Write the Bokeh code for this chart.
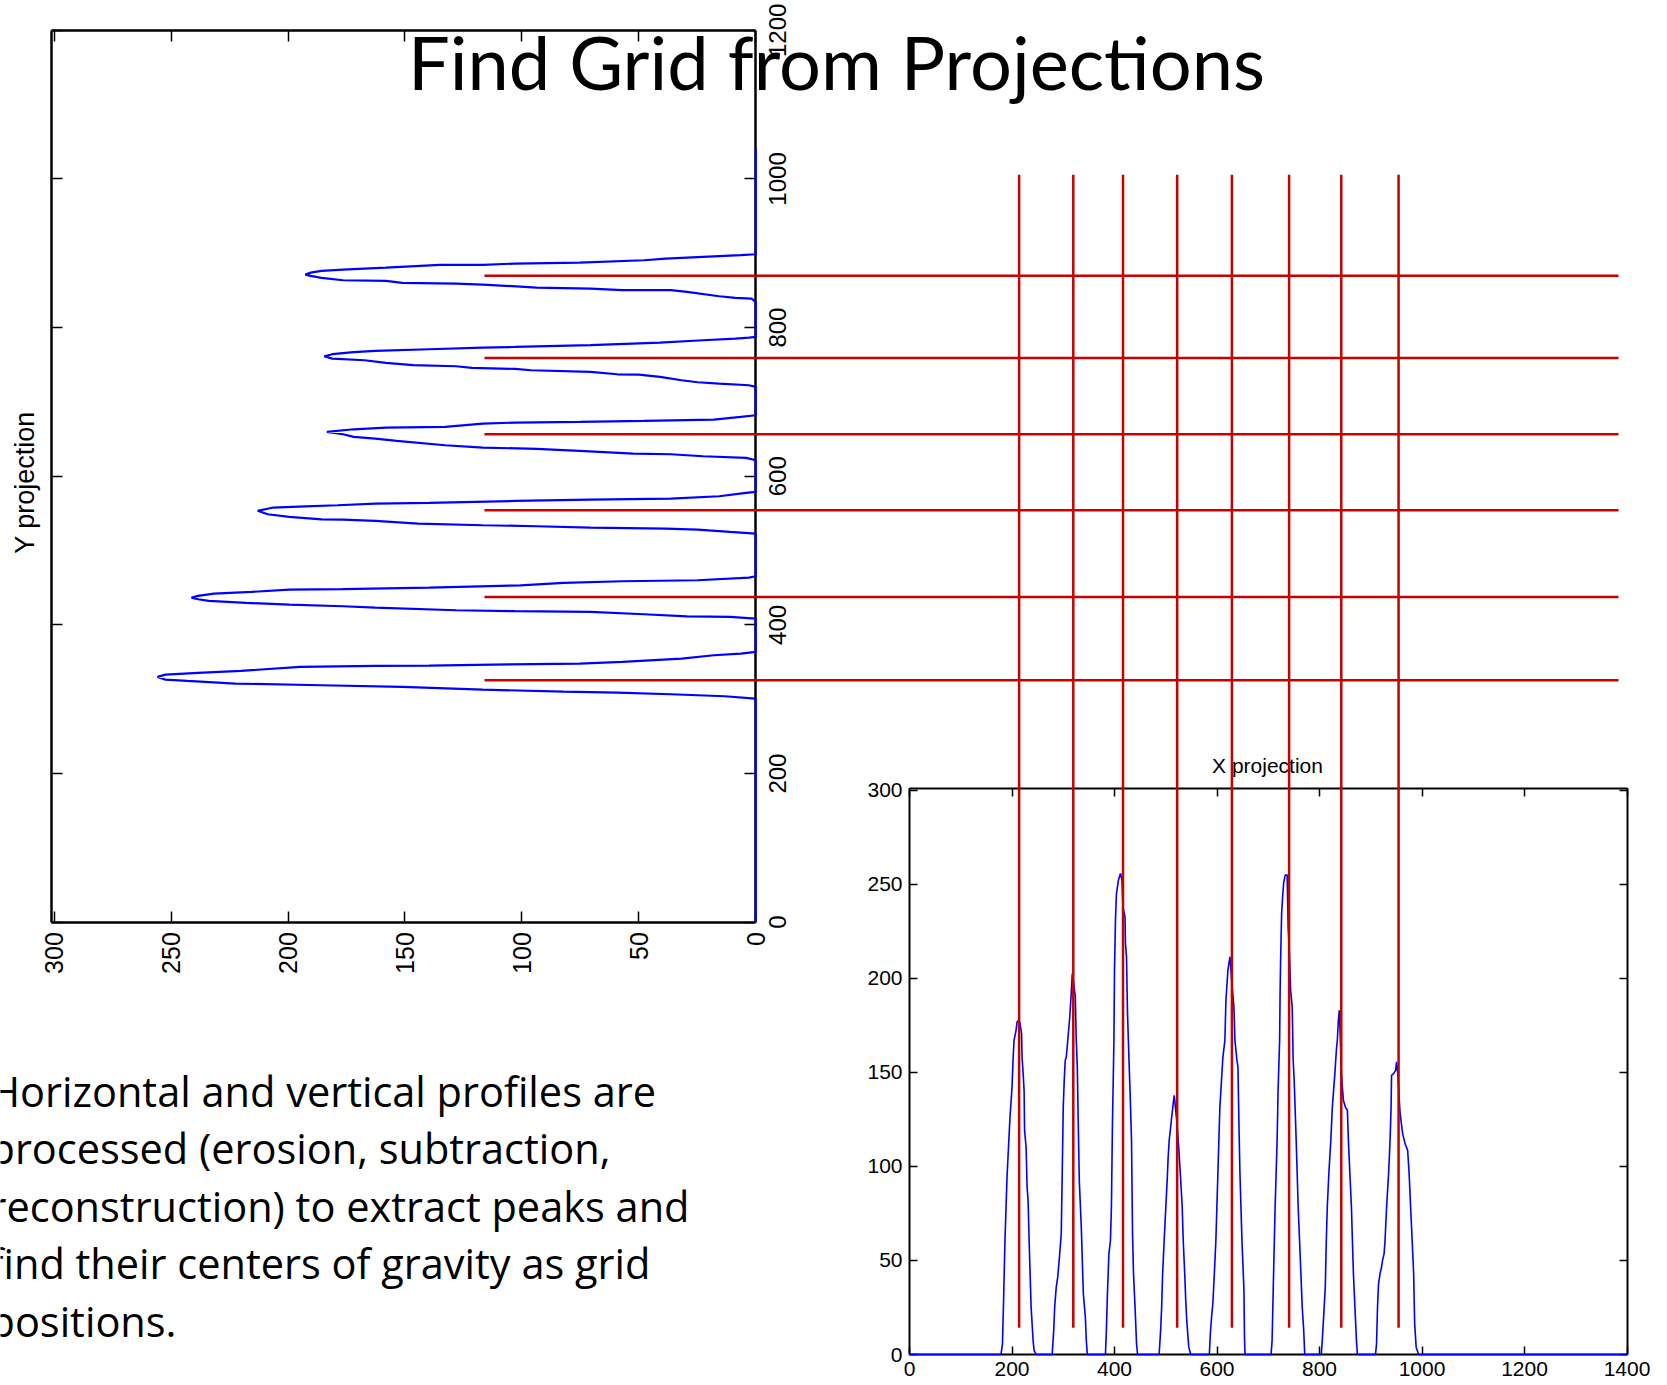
import math
from bokeh.plotting import figure
from bokeh.models import Range1d, LinearAxis, FixedTicker, Label
from bokeh.core.properties import value
from bokeh.embed import file_html
from bokeh.resources import INLINE

# ---------------- data ----------------
title_text = "Find Grid from Projections"
paragraph_lines = [
    "Horizontal and vertical profiles are",
    "processed (erosion, subtraction,",
    "reconstruction) to extract peaks and",
    "find their centers of gravity as grid",
    "positions.",
]

# X projection (profile summed over rows), x = column, y = value
xproj_x = [0, 178.5, 181.4, 183.4, 186.3, 190.3, 196.1, 200.1, 202.0, 204.0, 207.9, 209.9, 213.8, 215.7, 218.7, 219.6,
           221.6, 223.6, 224.5, 227.5, 229.4, 231.4, 233.4, 237.3, 241.2, 243.2, 247.1,
           278.4, 281.4, 283.3, 286.3, 289.2, 292.1, 296.1, 298.0, 300.0, 301.9, 303.9, 305.9, 308.8, 312.7, 315.6,
           317.6, 319.6, 323.5, 325.4, 327.4, 329.4, 331.3, 335.2, 337.2, 339.2, 343.1, 345.0, 347.0,
           382.3, 384.2, 386.2, 389.1, 392.1, 394.0, 396.0, 398.9, 400.0, 401.9, 403.8, 407.7, 411.6, 414.6, 416.5,
           420.5, 421.4, 423.4, 425.4, 428.3, 430.3, 433.2, 435.2, 437.1, 440.1, 443.0, 445.0,
           487.1, 490.0, 492.0, 493.9, 496.9, 499.8, 502.8, 504.7, 506.7, 509.6, 511.6, 514.5, 516.5, 521.4, 525.3,
           529.2, 532.1, 534.1, 537.0, 539.0, 541.0, 544.9, 548.8,
           585.0, 587.0, 589.9, 591.9, 594.8, 597.8, 601.7, 605.6, 611.5, 615.4, 617.4, 621.3, 625.2, 629.1, 633.0,
           635.0, 638.9, 640.9, 642.8, 644.8, 648.7, 652.6, 653.6, 654.6,
           705.5, 707.5, 710.4, 713.4, 717.3, 719.2, 722.2, 723.1, 724.1, 726.1, 728.1, 730.0, 733.0, 736.9, 738.8,
           740.8, 743.7, 746.7, 748.6, 750.6, 754.5, 758.4, 762.4, 766.3, 769.2, 771.2,
           803.5, 805.4, 808.4, 811.3, 813.3, 815.2, 818.2, 822.1, 825.0, 830.0, 832.9, 834.8, 836.8, 838.8, 840.7,
           842.7, 846.6, 850.5, 854.4, 856.4, 859.3, 862.3, 864.2, 866.2, 869.1, 872.1, 874.0,
           909.3, 911.3, 913.2, 915.2, 918.1, 921.1, 923.0, 926.0, 927.9, 930.9, 934.8, 937.7, 939.7, 940.6, 944.6,
           948.5, 950.4, 952.4, 954.3, 957.3, 962.2, 967.1, 972.0, 974.9, 977.8, 980.8, 983.7, 985.7, 988.6, 993.5,
           1400]
xproj_y = [0, 0, 5.7, 27.0, 60.6, 94.3, 126.2, 142.2, 156.4, 167.0, 172.3, 176.8, 177.7, 175.9, 170.6, 158.1,
           150.0, 140.4, 119.1, 110.3, 89.0, 81.9, 60.6, 25.2, 7.4, 2.1, 0,
           0, 12.8, 25.2, 35.8, 41.1, 50.0, 64.2, 96.1, 131.5, 145.7, 156.4, 158.0, 167.0, 179.4, 191.9,
           202.5, 199.0, 190.1, 167.0, 152.8, 120.9, 92.5, 67.7, 50.0, 32.3, 19.9, 7.4, 0,
           0, 12.8, 32.3, 53.5, 60.6, 78.4, 122.7, 167.0, 204.3, 230.9, 245.0, 252.1, 255.7, 252.1, 238.0,
           232.6, 218.4, 211.4, 181.2, 156.4, 140.4, 113.8, 64.2, 42.9, 25.2, 5.7, 0,
           0, 12.8, 25.2, 42.9, 60.6, 76.6, 92.5, 104.9, 113.8, 120.9, 126.2, 133.3, 137.7, 124.4, 110.3,
           92.5, 78.4, 60.6, 42.9, 28.7, 18.1, 3.9, 0,
           0, 11.0, 21.6, 27.0, 42.9, 60.6, 96.1, 131.5, 158.1, 167.0, 188.3, 204.3, 211.4, 197.2, 184.8,
           167.0, 156.4, 152.8, 122.7, 96.1, 60.6, 34.0, 10.0, 0,
           0, 7.4, 42.9, 78.4, 113.8, 140.4, 167.0, 191.9, 209.6, 234.4, 243.3, 250.4, 254.8, 254.8, 227.3,
           216.7, 193.6, 184.8, 156.4, 145.7, 113.8, 78.4, 51.8, 25.2, 12.8, 0,
           0, 7.4, 21.6, 35.8, 60.6, 78.4, 96.1, 113.8, 131.5, 149.3, 161.7, 167.0, 177.7, 183.0, 167.0,
           149.3, 135.1, 131.5, 129.8, 113.8, 96.1, 78.4, 60.6, 42.9, 25.2, 7.4, 0,
           0, 5.7, 25.2, 37.6, 42.9, 46.5, 50.0, 53.5, 60.6, 78.4, 96.1, 113.8, 131.5, 148.4, 149.3,
           151.0, 155.5, 150.2, 142.2, 128.0, 117.4, 112.0, 108.5, 96.1, 78.4, 60.6, 42.9, 16.3, 3.9, 0,
           0]

# Y projection (profile summed over columns), pos = row, val = value
yproj_pos = [0,
             300.9, 304.0, 306.7, 308.9, 310.3, 312.9, 316.5, 318.8, 321.0, 324.6, 326.4, 330.0, 333.1, 335.4, 338.1,
             343.5, 344.8, 345.3, 347.0, 347.9, 350.2, 354.7, 359.2, 361.4, 363.6,
             408.5, 410.7, 411.6, 414.3, 417.5, 418.4, 419.7, 423.3, 425.1, 427.3, 429.6, 432.3, 434.5, 436.7, 439.0,
             442.1, 444.4, 447.5, 448.0, 450.2, 453.3, 456.5, 458.7, 460.1, 463.6, 465.4,
             522.9, 525.1, 528.2, 529.6, 530.9, 532.7, 534.1, 536.3, 539.9, 541.7, 542.1, 545.3, 548.9, 553.5, 557.9,
             559.6, 561.0, 563.2, 564.1, 566.8, 568.6, 570.0, 573.1, 577.6, 578.9,
             621.5, 624.7, 626.9, 629.6, 630.5, 634.1, 636.8, 638.6, 641.7, 647.5, 650.7, 652.9, 656.5, 659.7, 663.2,
             665.5, 666.4, 670.9, 672.2, 673.1, 674.5, 676.3, 679.8, 682.1,
             720.2, 722.4, 724.7, 726.5, 729.2, 733.7, 736.8, 737.2, 740.4, 742.6, 744.4, 745.8, 748.0, 749.4, 752.5,
             756.1, 758.3, 761.5, 764.2, 766.9, 768.6, 770.9, 773.1, 774.0, 776.3, 779.9, 783.0, 785.2, 786.6, 787.5,
             834.6, 839.1, 840.0, 842.2, 848.0, 850.3, 850.3, 852.5, 853.9, 857.9, 859.2, 860.1, 862.8, 863.7, 866.9,
             869.6, 871.3, 874.0, 876.3, 878.1, 880.8, 884.4, 884.4, 886.2, 887.5, 890.6, 892.9, 895.1, 897.4, 898.7,
             1041]
yproj_val = [0,
             0, 13.3, 36.3, 59.2, 82.2, 116.7, 151.2, 185.7, 222.5, 243.1, 252.4, 255.8, 252.4, 238.5, 220.2,
             194.8, 162.7, 139.7, 105.2, 75.3, 57.0, 31.7, 17.9, 6.4, 0,
             0, 11.0, 29.4, 47.8, 70.7, 102.9, 128.2, 162.7, 176.5, 199.5, 217.9, 233.9, 238.5, 241.3, 238.5,
             231.7, 215.6, 199.5, 176.5, 139.7, 100.6, 82.2, 57.0, 24.8, 2.9, 0,
             0, 11.0, 24.8, 38.5, 70.7, 93.7, 116.7, 144.3, 162.7, 176.5, 185.7, 199.5, 208.7, 213.0, 206.3,
             192.6, 178.8, 162.7, 139.7, 102.9, 70.7, 36.3, 15.6, 4.1, 0,
             0, 4.1, 22.5, 36.3, 52.4, 75.3, 93.7, 116.7, 132.8, 153.5, 162.7, 171.9, 176.5, 183.4, 171.9,
             158.1, 132.8, 116.7, 102.9, 75.3, 47.8, 17.9, 6.4, 0,
             0, 2.9, 15.6, 24.8, 31.7, 40.9, 50.0, 59.2, 70.7, 96.0, 102.9, 121.3, 128.2, 146.6, 158.1,
             167.3, 181.1, 184.5, 181.1, 171.9, 162.7, 139.7, 116.7, 102.9, 70.7, 40.9, 22.5, 8.7, 2.9, 0,
             0, 1.8, 8.7, 15.6, 29.4, 36.3, 57.0, 70.7, 93.7, 116.7, 128.2, 151.2, 158.1, 176.5, 185.7,
             190.3, 192.6, 190.3, 185.7, 176.5, 158.1, 135.1, 116.7, 102.9, 75.3, 47.8, 38.5, 22.5, 6.4, 0,
             0]

# detected grid positions (centres of gravity)
grid_cols = [213.9, 319.6, 416.6, 522.3, 629.1, 740.7, 842.5, 954.3]   # X-projection units
grid_rows = [325.5, 437.6, 554.3, 656.5, 759.2, 869.6]                 # Y-projection units
col_line_y = [14.2, 627.0]     # vertical grid lines extent (X-projection value units)
row_line_v = [116.0, -369.0]   # horizontal grid lines extent (Y-projection value units)

xproj_xticks = [0, 200, 400, 600, 800, 1000, 1200, 1400]
xproj_yticks = [0, 50, 100, 150, 200, 250, 300]
yproj_vticks = [0, 50, 100, 150, 200, 250, 300]
yproj_pticks = [0, 200, 400, 600, 800, 1000, 1200]

# ---------------- layout ----------------
W, H = 1667, 1385
XP = dict(left=909, right=1626.5, top=787.7, bottom=1354, x=(0, 1400), y=(0, 301))
YP = dict(left=51.4, right=755.2, top=29.8, bottom=921.7, v=(301, 0), p=(0, 1200))


def span_range(d_a, p_a, d_b, p_b, total):
    k = (p_b - p_a) / (d_b - d_a)
    return Range1d(d_a - p_a / k, d_a + (total - p_a) / k)


p = figure(width=W, height=H, x_range=Range1d(0, W), y_range=Range1d(H, 0),
           min_border=0, toolbar_location=None, output_backend="svg",
           x_axis_location=None, y_axis_location=None)
p.outline_line_color = None
p.background_fill_color = "white"
p.border_fill_color = "white"
p.grid.visible = False

p.extra_x_ranges = {
    "xpx": span_range(XP["x"][0], XP["left"], XP["x"][1], XP["right"], W),
    "ypx": span_range(YP["v"][0], YP["left"], YP["v"][1], YP["right"], W),
}
p.extra_y_ranges = {
    "xpy": span_range(XP["y"][0], H - XP["bottom"], XP["y"][1], H - XP["top"], H),
    "ypy": span_range(YP["p"][0], H - YP["bottom"], YP["p"][1], H - YP["top"], H),
}

FONT = "Liberation Sans"


def frame_axis(side, xr, yr, loc, bounds, ticks, tick_len, labels, font_size, standoff, lw, orient=None):
    ax = LinearAxis(x_range_name=xr, y_range_name=yr, fixed_location=loc, bounds=bounds,
                    ticker=FixedTicker(ticks=ticks), major_tick_in=tick_len, major_tick_out=0,
                    minor_tick_line_color=None, axis_line_width=lw, axis_line_color="black",
                    major_tick_line_width=1.5, major_tick_line_color="black",
                    major_label_text_font=FONT, major_label_text_font_size=font_size,
                    major_label_standoff=standoff, major_label_text_color="black" if labels else None)
    if orient is not None:
        ax.major_label_orientation = orient
    p.add_layout(ax, side)
    return ax


# X projection frame
frame_axis("below", "xpx", "xpy", XP["y"][0], XP["x"], xproj_xticks, 8, True, "21px", 7, 2)
frame_axis("above", "xpx", "xpy", XP["y"][1], XP["x"], xproj_xticks, 8, False, "21px", 7, 2)
frame_axis("left", "xpx", "xpy", XP["x"][0], XP["y"], xproj_yticks, 8, True, "21px", 7, 2)
frame_axis("right", "xpx", "xpy", XP["x"][1], XP["y"], xproj_yticks, 8, False, "21px", 7, 2)

# Y projection frame (rotated plot)
frame_axis("below", "ypx", "ypy", YP["p"][0], (0, 301), yproj_vticks, 11, True, "25px", 10, 2.5,
           orient=math.pi / 2)
frame_axis("above", "ypx", "ypy", YP["p"][1], (0, 301), yproj_vticks, 11, False, "25px", 10, 2.5)
frame_axis("left", "ypx", "ypy", YP["v"][0], YP["p"], yproj_pticks, 11, False, "25px", 10, 2.5)
frame_axis("right", "ypx", "ypy", YP["v"][1], YP["p"], yproj_pticks, 11, False, "25px", 10, 2.5)

# rotated tick labels on the right side of the Y projection
p.text(x=[0] * len(yproj_pticks), y=yproj_pticks, text=[str(t) for t in yproj_pticks],
       x_range_name="ypx", y_range_name="ypy", angle=math.pi / 2, x_offset=13,
       text_align="center", text_baseline="top", text_font=value(FONT),
       text_font_size="24px", text_color="black")

# profiles
BLUE = "#0000FF"
RED = "#C80000"
p.line(xproj_x, xproj_y, x_range_name="xpx", y_range_name="xpy", line_color=BLUE,
       line_width=1.6, level="overlay")
p.line(yproj_val, yproj_pos, x_range_name="ypx", y_range_name="ypy", line_color=BLUE,
       line_width=2.2, level="overlay")

# grid lines
p.segment(x0=grid_cols, x1=grid_cols, y0=[col_line_y[0]] * len(grid_cols), y1=[col_line_y[1]] * len(grid_cols),
          x_range_name="xpx", y_range_name="xpy", line_color=RED, line_width=2.5, level="overlay")
p.segment(x0=[row_line_v[0]] * len(grid_rows), x1=[row_line_v[1]] * len(grid_rows), y0=grid_rows, y1=grid_rows,
          x_range_name="ypx", y_range_name="ypy", line_color=RED, line_width=2.5, level="overlay")

# texts
p.add_layout(Label(x=836, y=61, text=title_text, text_align="center", text_baseline="alphabetic",
                   text_font="Lato", text_font_size="74px", text_color="black"))
for i, line in enumerate(paragraph_lines):
    p.add_layout(Label(x=-11, y=1090 + i * 57.5, text=line, text_align="left", text_baseline="alphabetic",
                       text_font="Open Sans", text_font_size="41.5px", text_color="black"))
p.add_layout(Label(x=24, y=482, text="Y projection", angle=math.pi / 2, text_align="center",
                   text_baseline="middle", text_font=FONT, text_font_size="27px", text_color="black"))
p.add_layout(Label(x=1267, y=765, text="X projection", text_align="center", text_baseline="alphabetic",
                   text_font=FONT, text_font_size="21px", text_color="black"))

open("out.html", "w").write(file_html(p, INLINE))
